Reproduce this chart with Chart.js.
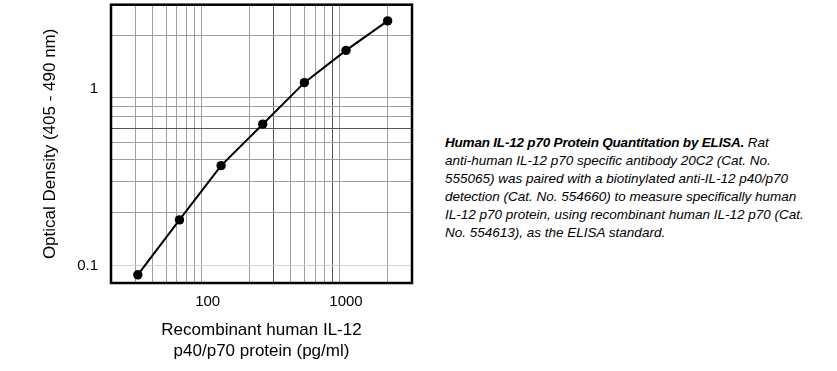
<!DOCTYPE html>
<html>
<head>
<meta charset="utf-8">
<script src="https://cdn.jsdelivr.net/npm/chart.js@4/dist/chart.umd.min.js"></script>
<style>
  body { margin: 0; background: #fff; width: 837px; height: 371px; position: relative; overflow: hidden; }
  #wrap { position: absolute; left: 0; top: 0; width: 430px; height: 371px; }
  #caption {
    position: absolute; left: 445px; top: 134px;
    font-family: "Liberation Sans", Arial, sans-serif; font-size: 13.5px; line-height: 18px;
    font-style: italic; color: #000; white-space: nowrap;
  }
  #caption b { font-size: 13.5px; letter-spacing: -0.2px; }
</style>
</head>
<body>
<div id="wrap"><canvas id="elisa" width="430" height="371"></canvas></div>
<div id="caption"><b>Human IL-12 p70 Protein Quantitation by ELISA.</b> Rat<br>anti-human IL-12 p70 specific antibody 20C2 (Cat. No.<br>555065) was paired with a biotinylated anti-IL-12 p40/p70<br>detection (Cat. No. 554660) to measure specifically human<br>IL-12 p70 protein, using recombinant human IL-12 p70 (Cat.<br>No. 554613), as the ELISA standard.</div>
<script>
// standard curve (pg/ml vs OD)
var CONC = [31.25, 62.5, 125, 250, 500, 1000, 2000];
var OD = [0.089, 0.182, 0.369, 0.633, 1.087, 1.655, 2.43];

var X_GRID = [30, 40, 50, 60, 70, 80, 90, 100, 200, 300, 400, 500, 600, 700, 800, 900, 1000, 2000];
var X_LABELS = [100, 1000];
var Y_GRID = [0.1, 0.2, 0.3, 0.4, 0.5, 0.6, 0.7, 0.8, 0.9, 1, 2];
var Y_LABELS = [0.1, 1];

var font = "'Liberation Sans', Arial, sans-serif";

var framePlugin = {
    id: "frame",
    afterDraw: function (chart) {
        var a = chart.chartArea, c = chart.ctx;
        c.save();
        c.strokeStyle = "#000";
        c.lineWidth = 2.5;
        c.strokeRect(a.left, a.top, a.right - a.left, a.bottom - a.top);
        c.restore();
    }
};

function xGridColor(ctx) {
    var v = ctx.tick && ctx.tick.value;
    if (v === 100 || v === 1000) return "rgba(0,0,0,0)";
    if (v === 300 || v === 800) return "#555";
    return "#a0a0a0";
}
function yGridColor(ctx) {
    var v = ctx.tick && ctx.tick.value;
    if (v === 1) return "rgba(0,0,0,0)";
    if (v === 0.1) return "#d4d4d4";
    if (v === 0.6) return "#555";
    return "#a0a0a0";
}

var ctx = document.getElementById("elisa").getContext("2d");
var chart = new Chart(ctx, {
    type: "line",
    data: {
        datasets: [{
            data: CONC.map(function (c, i) { return { x: c, y: OD[i] }; }),
            borderColor: "#000",
            backgroundColor: "#000",
            borderWidth: 2,
            pointRadius: 4.7,
            pointBackgroundColor: "#000",
            pointBorderWidth: 0,
            tension: 0
        }]
    },
    options: {
        responsive: false,
        animation: false,
        layout: { padding: { top: 4, right: 18, left: 0, bottom: 0 } },
        plugins: { legend: { display: false }, tooltip: { enabled: false } },
        scales: {
            x: {
                type: "logarithmic",
                min: 20,
                max: 3000,
                afterBuildTicks: function (s) { s.ticks = X_GRID.map(function (v) { return { value: v }; }); },
                afterFit: function (s) { s.height = 88; s.paddingLeft = 0; s.paddingRight = 0; },
                grid: { color: xGridColor, lineWidth: 1, drawTicks: false },
                border: { display: false },
                ticks: {
                    autoSkip: false,
                    maxRotation: 0,
                    padding: 10,
                    color: "#000",
                    font: { family: font, size: 15 },
                    callback: function (v) { return X_LABELS.indexOf(v) >= 0 ? String(v) : ""; }
                },
                title: {
                    display: true,
                    text: ["Recombinant human IL-12", "p40/p70 protein (pg/ml)"],
                    color: "#000",
                    font: { family: font, size: 17, lineHeight: 1.27 },
                    padding: { top: 0, bottom: 8.5 }
                }
            },
            y: {
                type: "logarithmic",
                min: 0.08,
                max: 3,
                afterBuildTicks: function (s) { s.ticks = Y_GRID.map(function (v) { return { value: v }; }); },
                afterFit: function (s) { s.width = 111; s.paddingTop = 0; s.paddingBottom = 0; },
                grid: { color: yGridColor, lineWidth: 1, drawTicks: false },
                border: { display: false },
                ticks: {
                    autoSkip: false,
                    padding: 13,
                    color: "#000",
                    font: { family: font, size: 15 },
                    callback: function (v) { return Y_LABELS.indexOf(v) >= 0 ? String(v) : ""; }
                },
                title: {
                    display: true,
                    text: "Optical Density (405 - 490 nm)",
                    color: "#000",
                    font: { family: font, size: 17 },
                    padding: { top: 40, bottom: 0 }
                }
            }
        }
    },
    plugins: [framePlugin]
});
</script>
</body>
</html>
